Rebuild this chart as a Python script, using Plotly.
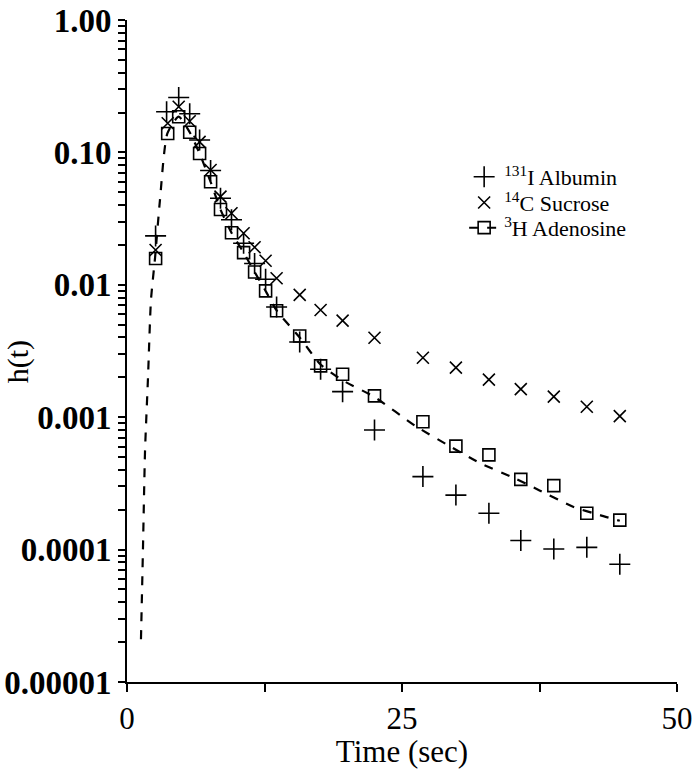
import plotly.graph_objects as go

# ---- data ----
albumin_t = [2.6, 3.6, 4.7, 5.7, 6.6, 7.6, 8.5, 9.5, 10.6, 11.6, 12.6, 13.6,
             15.7, 17.6, 19.6, 22.5, 26.9, 29.9, 32.9, 35.8, 38.8, 41.8, 44.8]
albumin_h = [0.0234, 0.203, 0.26, 0.196, 0.124, 0.073, 0.045, 0.031, 0.0206, 0.0145, 0.011, 0.0068,
             0.0037, 0.0023, 0.00156, 0.0008, 0.000356, 0.000258, 0.000188, 0.000117, 0.000101, 0.000104, 0.0000776]

sucrose_t = [2.6, 3.7, 4.7, 5.7, 6.6, 7.6, 8.5, 9.5, 10.6, 11.6, 12.6, 13.6,
             15.7, 17.6, 19.6, 22.5, 26.9, 29.9, 32.9, 35.8, 38.8, 41.8, 44.8]
sucrose_h = [0.0183, 0.166, 0.221, 0.172, 0.12, 0.0736, 0.0463, 0.0347, 0.0245, 0.0192, 0.0152, 0.0112,
             0.0084, 0.00645, 0.00536, 0.00398, 0.00281, 0.00237, 0.00192, 0.00163, 0.00143, 0.0012, 0.00102]

adenosine_t = [2.6, 3.7, 4.7, 5.7, 6.6, 7.6, 8.5, 9.5, 10.6, 11.6, 12.6, 13.6,
               15.7, 17.6, 19.6, 22.5, 26.9, 29.9, 32.9, 35.8, 38.8, 41.8, 44.8]
adenosine_h = [0.0158, 0.139, 0.186, 0.142, 0.098, 0.06, 0.037, 0.0247, 0.0175, 0.0125, 0.009, 0.00637,
               0.0041, 0.00244, 0.00211, 0.00145, 0.000925, 0.000605, 0.000519, 0.000339, 0.000304, 0.000188, 0.000167]

# dashed model curve through the adenosine data
fit_t = [1.27, 1.45, 1.64, 1.91, 2.18, 2.55, 3.0, 3.67, 4.7, 5.7, 6.6, 7.6, 8.5, 9.5, 10.6, 11.6,
         12.6, 13.6, 15.7, 17.6, 19.6, 22.5, 26.3, 29.1, 32.1, 35.1, 37.5, 40.6, 43.0, 44.8]
fit_h = [0.000021, 0.0001, 0.00056, 0.002, 0.0077, 0.016, 0.044, 0.139, 0.186, 0.142, 0.098, 0.06,
         0.037, 0.0247, 0.0175, 0.0125, 0.009, 0.0064, 0.004, 0.0025, 0.0019, 0.00142, 0.00085,
         0.00062, 0.00045, 0.00035, 0.00028, 0.00021, 0.000182, 0.000165]

y_decades = [1e-5, 1e-4, 1e-3, 1e-2, 1e-1, 1]
y_decade_labels = ["0.00001", "0.0001", "0.001", "0.01", "0.10", "1.00"]
x_tickvals = [0, 12.5, 25, 37.5, 50]
x_ticktext = ["0", "", "25", "", "50"]

# log-axis ticks: a labelled tick per decade and unlabelled ticks at 2..9
y_tickvals, y_ticktext = [], []
for d, lab in zip(y_decades, y_decade_labels):
    y_tickvals.append(d)
    y_ticktext.append(lab)
    if d < 1:
        for m in range(2, 10):
            y_tickvals.append(m * d)
            y_ticktext.append("")

FONT = "Liberation Serif"

fig = go.Figure()

fig.add_trace(go.Scatter(
    x=fit_t, y=fit_h, mode="lines", showlegend=False,
    line=dict(color="black", width=2.2, dash="dash", shape="spline", smoothing=0.6),
    hoverinfo="skip"))

fig.add_trace(go.Scatter(
    x=albumin_t, y=albumin_h, mode="markers", name="<sup>131</sup>I Albumin",
    legend="legend",
    marker=dict(symbol="cross-thin-open", size=15, color="black",
                line=dict(color="black", width=1.6))))

fig.add_trace(go.Scatter(
    x=sucrose_t, y=sucrose_h, mode="markers", name="<sup>14</sup>C Sucrose",
    legend="legend2",
    marker=dict(symbol="x-thin-open", size=12, color="black",
                line=dict(color="black", width=1.6))))

fig.add_trace(go.Scatter(
    x=adenosine_t, y=adenosine_h, mode="markers", showlegend=False,
    marker=dict(symbol="square-open", size=12, color="black",
                line=dict(color="black", width=1.6))))

# legend entry for the adenosine data + dashed curve
fig.add_trace(go.Scatter(
    x=[None], y=[None], mode="lines+markers", name="<sup>3</sup>H Adenosine",
    legend="legend3",
    line=dict(color="black", width=2, dash="dash"),
    marker=dict(symbol="square-open", size=12, color="black",
                line=dict(color="black", width=1.6))))

leg_common = dict(x=0.613, xanchor="left", yanchor="middle",
                  font=dict(family=FONT, size=22, color="black"),
                  bgcolor="rgba(0,0,0,0)", itemwidth=30)

fig.update_layout(
    width=695, height=769,
    margin=dict(l=127, r=18, t=20, b=87),
    paper_bgcolor="white", plot_bgcolor="white",
    font=dict(family=FONT, color="black", size=30),
    showlegend=True,
    legend=dict(y=0.763, **leg_common),
    legend2=dict(y=0.724, **leg_common),
    legend3=dict(y=0.686, **leg_common),
    annotations=[dict(text="h(t)", xref="paper", yref="paper",
                      x=-0.198, y=0.483, xanchor="center", yanchor="middle",
                      textangle=-90, showarrow=False,
                      font=dict(family=FONT, size=30, color="black"))],
)

fig.update_xaxes(
    range=[0, 50], tickvals=x_tickvals, ticktext=x_ticktext, automargin=False,
    showline=True, linecolor="black", linewidth=2, mirror=False,
    ticks="outside", ticklen=8, tickwidth=2, tickcolor="black",
    showgrid=False, zeroline=False,
    tickfont=dict(family=FONT, size=31),
    title=dict(text="Time (sec)", font=dict(family=FONT, size=31), standoff=2),
)

fig.update_yaxes(
    type="log", range=[-5, 0], tickmode="array", tickvals=y_tickvals, ticktext=y_ticktext,
    automargin=False,
    showline=True, linecolor="black", linewidth=2, mirror=False,
    ticks="outside", ticklen=7, tickwidth=1.8, tickcolor="black",
    showgrid=False, zeroline=False,
    tickfont=dict(family=FONT, size=33, weight="bold"),
)

fig.write_html("out.html")
